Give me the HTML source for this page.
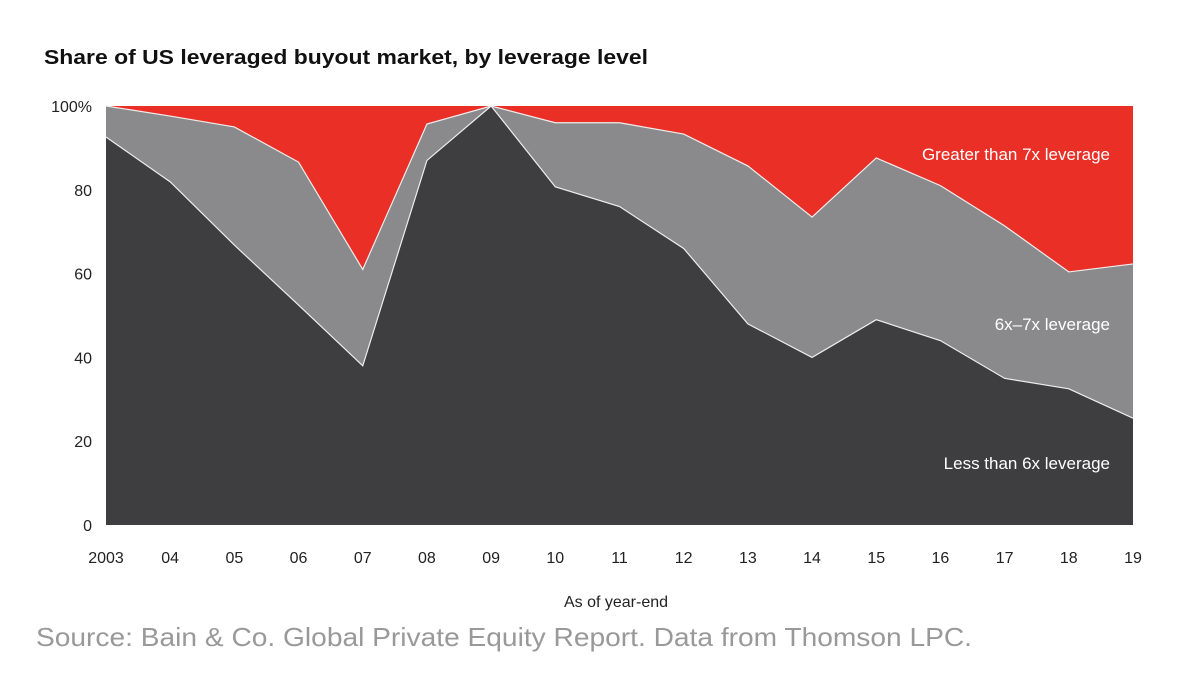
<!DOCTYPE html>
<html><head><meta charset="utf-8"><style>
body{margin:0;background:#fff;width:1192px;height:678px;overflow:hidden;font-family:"Liberation Sans",sans-serif}
</style></head><body>
<svg width="1192" height="678" id="svg">
<text x="44" y="64" font-size="20" font-weight="bold" fill="#111" textLength="604" lengthAdjust="spacingAndGlyphs">Share of US leveraged buyout market, by leverage level</text>
<g id="plot"></g>
<text x="616" y="607" font-size="16" fill="#222" text-anchor="middle">As of year-end</text>
<text x="36" y="646" font-size="26" fill="#999" textLength="936" lengthAdjust="spacingAndGlyphs">Source: Bain &amp; Co. Global Private Equity Report. Data from Thomson LPC.</text>
</svg>
<script>
const years=["2003","04","05","06","07","08","09","10","11","12","13","14","15","16","17","18","19"];
const lessThan6=[92.6,81.9,66.8,52.5,38,87,100,80.7,76,66,48,40,49,44,35,32.5,25.5];
const sixTo7=[7.4,15.7,28.2,34.1,23,8.7,0,15.3,20,27.3,37.7,33.5,38.6,37,36.4,27.9,36.8];
const yTicks=[0,20,40,60,80,100];
const x0=106,x1=1133,yT=106,yB=525;
const X=i=>x0+i*(x1-x0)/(years.length-1);
const Y=v=>yB-v*(yB-yT)/100;
const g=document.getElementById('plot');
const NS='http://www.w3.org/2000/svg';
function mk(t,a){const e=document.createElementNS(NS,t);for(const k in a)e.setAttribute(k,a[k]);g.appendChild(e);return e;}
const top2=lessThan6.map((v,i)=>v+sixTo7[i]);
let r=mk('rect',{x:x0,y:Y(100),width:x1-x0,height:Y(0)-Y(100),fill:'#ea2f26'});


function area(arr,fill,name){let d='M'+X(0)+','+Y(0);arr.forEach((v,i)=>d+='L'+X(i)+','+Y(v));d+='L'+X(arr.length-1)+','+Y(0)+'Z';
const p=mk('path',{d:d,fill:fill});


let l='';arr.forEach((v,i)=>l+=(i?'L':'M')+X(i)+','+Y(v));
const ln=mk('path',{d:l,fill:'none',stroke:'#eee','stroke-width':1.2});

}
area(top2,'#8a8a8c','area-6x-7x');
area(lessThan6,'#3e3d3f','area-less-than-6x');
yTicks.forEach(v=>{const t=mk('text',{x:92,y:Y(v)+6,'font-size':16,fill:'#222','text-anchor':'end'});t.textContent=v===100?'100%':v;

});
years.forEach((y,i)=>{const t=mk('text',{x:X(i),y:563,'font-size':16,fill:'#222','text-anchor':'middle'});t.textContent=y;

});
[["Greater than 7x leverage",160,'legend-greater-than-7x'],["6x–7x leverage",330,'legend-6x-7x'],["Less than 6x leverage",469,'legend-less-than-6x']].forEach(l=>{
const t=mk('text',{x:1110,y:l[1],'font-size':17,fill:'#fff','text-anchor':'end'});t.textContent=l[0];

});
</script>
</body></html>
